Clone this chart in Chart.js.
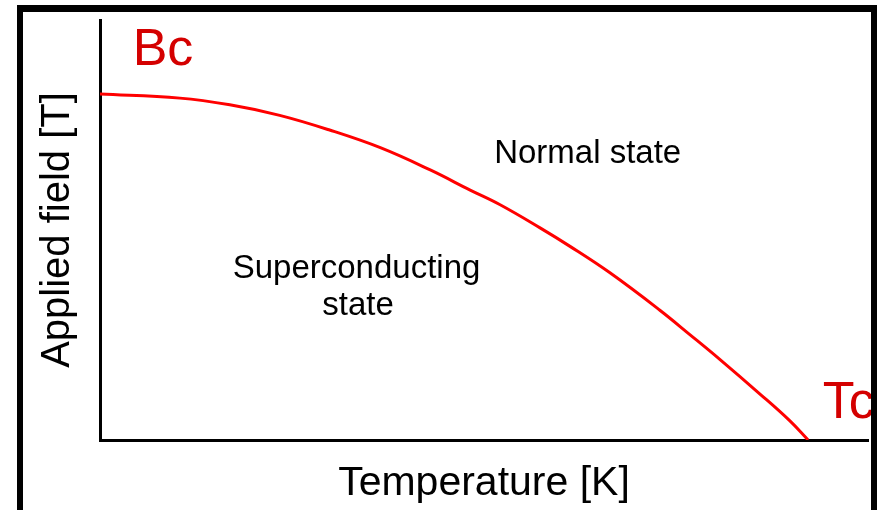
<!DOCTYPE html>
<html>
<head>
<meta charset="utf-8">
<script src="https://cdn.jsdelivr.net/npm/chart.js@4"></script>
<style>
  html, body { margin: 0; padding: 0; background: #fff; }
  canvas { display: block; }
</style>
</head>
<body>
<canvas id="phaseChart" width="877" height="510"></canvas>
<script>
// critical field curve (arbitrary units, 0..100)
const temperature = [0, 10.4, 16.9, 23.4, 29.9, 36.5, 43.0, 48.2, 52.1, 57.3, 61.2, 66.4, 72.9, 76.8, 80.7, 85.9, 89.8, 92.2];
const criticalField = [82.4, 81.4, 79.8, 77.3, 73.8, 69.6, 64.3, 59.5, 56.0, 50.5, 46.1, 39.8, 30.9, 25.1, 19.2, 11.0, 4.6, 0];

const xTitle = 'Temperature [K]';
const yTitle = 'Applied field [T]';

// labels placed in data units: [text, x, baseline y]
const regionLabels = [
    ['Normal state', 63.5, 66.0],
    ['Superconducting', 33.4, 38.6],
    ['state', 33.6, 29.8]
];
const markerLabels = [
    ['Bc', 8.2, 89.3, 'center'],
    ['Tc', 94.1, 5.2, 'left']
];

const annotate = {
    id: 'annotate',
    afterDraw(chart) {
        const c = chart.ctx;
        const xs = chart.scales.x, ys = chart.scales.y;
        c.save();
        c.textBaseline = 'alphabetic';

        c.fillStyle = '#000';
        c.font = '33px "Liberation Sans", Arial, sans-serif';
        c.textAlign = 'center';
        regionLabels.forEach(([t, x, y]) => {
            c.fillText(t, xs.getPixelForValue(x), ys.getPixelForValue(y));
        });

        c.fillStyle = '#d40000';
        c.font = '52px "Liberation Sans", Arial, sans-serif';
        markerLabels.forEach(([t, x, y, align]) => {
            c.textAlign = align;
            c.fillText(t, xs.getPixelForValue(x), ys.getPixelForValue(y));
        });

        // picture frame (drawn last so it clips the Tc label)
        c.fillStyle = '#000';
        c.fillRect(17, 5, 860, 7);
        c.fillRect(17, 5, 6, 505);
        c.fillRect(871, 5, 6, 505);
        c.restore();
    }
};

const ctx = document.getElementById('phaseChart').getContext('2d');
const phaseChart = new Chart(ctx, {
    type: 'scatter',
    data: {
        datasets: [{
            data: temperature.map((t, i) => ({ x: t, y: criticalField[i] })),
            showLine: true,
            borderColor: '#ff0000',
            borderWidth: 3,
            pointRadius: 0,
            tension: 0.4,
            fill: false
        }]
    },
    options: {
        responsive: false,
        animation: false,
        devicePixelRatio: 1,
        layout: { padding: { left: 0, top: 20, right: 9, bottom: 0 } },
        plugins: {
            legend: { display: false },
            tooltip: { enabled: false }
        },
        scales: {
            x: {
                type: 'linear',
                min: 0,
                max: 100,
                grid: { display: false },
                ticks: { display: false },
                border: { display: true, color: '#000', width: 3 },
                title: {
                    display: true,
                    text: xTitle,
                    color: '#000',
                    font: { family: '"Liberation Sans", Arial, sans-serif', size: 41 },
                    padding: { top: 0, bottom: 2 }
                },
                afterFit(scale) { scale.height = 70; }
            },
            y: {
                min: 0,
                max: 100,
                grid: { display: false },
                ticks: { display: false },
                border: { display: true, color: '#000', width: 3 },
                title: {
                    display: true,
                    text: yTitle,
                    color: '#000',
                    font: { family: '"Liberation Sans", Arial, sans-serif', size: 40 },
                    padding: { top: 34, bottom: 0 }
                },
                afterFit(scale) { scale.width = 100; }
            }
        }
    },
    plugins: [annotate]
});
</script>
</body>
</html>
